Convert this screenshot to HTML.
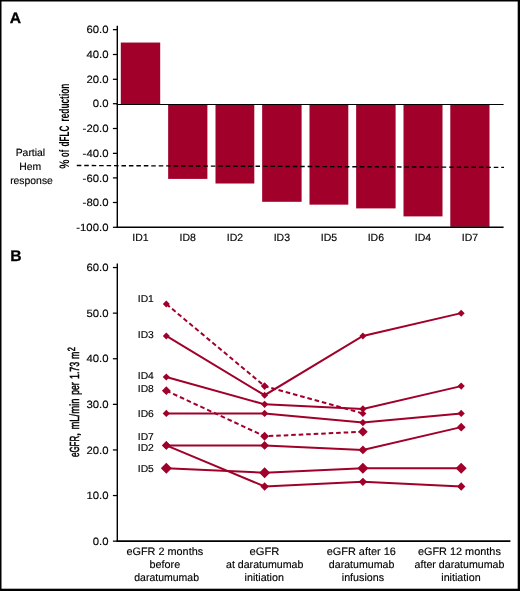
<!DOCTYPE html>
<html><head><meta charset="utf-8"><style>
html,body{margin:0;padding:0;background:#fff;}
body{width:520px;height:591px;overflow:hidden;}
svg{display:block;will-change:transform;}
text{font-family:"Liberation Sans",sans-serif;fill:#000;text-rendering:geometricPrecision;}
.t{font-size:10.8px;stroke:#000;stroke-width:0.15px;}
.pl{font-size:15.7px;font-weight:bold;fill:#000;stroke:#000;stroke-width:0.3px;}
.ta{font-size:13.8px;font-weight:bold;stroke:#000;stroke-width:0px;vector-effect:non-scaling-stroke;}
.tb{font-size:13.2px;stroke:#000;stroke-width:0.5px;vector-effect:non-scaling-stroke;}
</style></head><body>
<svg width="520" height="591" viewBox="0 0 520 591">
<rect x="0" y="0" width="1.5" height="591" fill="#000"/>
<rect x="0" y="0" width="520" height="1.5" fill="#000"/>
<rect x="517.7" y="0" width="2.3" height="591" fill="#000"/>
<rect x="0" y="588.7" width="520" height="2.3" fill="#000"/>
<text transform="translate(9.7,22.6) scale(1,0.95)" class="pl">A</text>
<text transform="translate(10.3,260.7) scale(1,0.98)" class="pl">B</text>
<rect x="120.8" y="42.55" width="39.40" height="61.95" fill="#a0002a"/>
<text x="140.50" y="240.6" class="t" style="font-size:10.5px" text-anchor="middle">ID1</text>
<rect x="168.15" y="104.5" width="39.25" height="74.40" fill="#a0002a"/>
<text x="187.78" y="240.6" class="t" style="font-size:10.5px" text-anchor="middle">ID8</text>
<rect x="215.5" y="104.5" width="38.80" height="79.00" fill="#a0002a"/>
<text x="234.90" y="240.6" class="t" style="font-size:10.5px" text-anchor="middle">ID2</text>
<rect x="262.15" y="104.5" width="39.45" height="97.30" fill="#a0002a"/>
<text x="281.88" y="240.6" class="t" style="font-size:10.5px" text-anchor="middle">ID3</text>
<rect x="309.5" y="104.5" width="38.80" height="100.15" fill="#a0002a"/>
<text x="328.90" y="240.6" class="t" style="font-size:10.5px" text-anchor="middle">ID5</text>
<rect x="356.15" y="104.5" width="39.45" height="103.90" fill="#a0002a"/>
<text x="375.88" y="240.6" class="t" style="font-size:10.5px" text-anchor="middle">ID6</text>
<rect x="403.5" y="104.5" width="39.00" height="111.90" fill="#a0002a"/>
<text x="423.00" y="240.6" class="t" style="font-size:10.5px" text-anchor="middle">ID4</text>
<rect x="450.3" y="104.5" width="39.20" height="122.30" fill="#a0002a"/>
<text x="469.90" y="240.6" class="t" style="font-size:10.5px" text-anchor="middle">ID7</text>
<line x1="117.3" y1="25.8" x2="117.3" y2="227.8" stroke="#000" stroke-width="1.4"/>
<line x1="116.6" y1="104.5" x2="503.6" y2="104.5" stroke="#000" stroke-width="1.1"/>
<line x1="116.6" y1="227.3" x2="503.6" y2="227.3" stroke="#000" stroke-width="1.6"/>
<line x1="112.9" y1="29.65" x2="117.3" y2="29.65" stroke="#000" stroke-width="1.25"/>
<text transform="translate(108.45,33.25) scale(1.05,0.98)" class="t" text-anchor="end">60.0</text>
<line x1="112.9" y1="54.50" x2="117.3" y2="54.50" stroke="#000" stroke-width="1.25"/>
<text transform="translate(108.45,58.10) scale(1.05,0.98)" class="t" text-anchor="end">40.0</text>
<line x1="112.9" y1="79.30" x2="117.3" y2="79.30" stroke="#000" stroke-width="1.25"/>
<text transform="translate(108.45,82.90) scale(1.05,0.98)" class="t" text-anchor="end">20.0</text>
<line x1="112.9" y1="103.70" x2="117.3" y2="103.70" stroke="#000" stroke-width="1.25"/>
<text transform="translate(108.45,107.30) scale(1.05,0.98)" class="t" text-anchor="end">0.0</text>
<line x1="112.9" y1="128.50" x2="117.3" y2="128.50" stroke="#000" stroke-width="1.25"/>
<text transform="translate(108.45,132.10) scale(1.05,0.98)" class="t" text-anchor="end">-20.0</text>
<line x1="112.9" y1="153.35" x2="117.3" y2="153.35" stroke="#000" stroke-width="1.25"/>
<text transform="translate(108.45,156.95) scale(1.05,0.98)" class="t" text-anchor="end">-40.0</text>
<line x1="112.9" y1="177.90" x2="117.3" y2="177.90" stroke="#000" stroke-width="1.25"/>
<text transform="translate(108.45,181.50) scale(1.05,0.98)" class="t" text-anchor="end">-60.0</text>
<line x1="112.9" y1="202.50" x2="117.3" y2="202.50" stroke="#000" stroke-width="1.25"/>
<text transform="translate(108.45,206.10) scale(1.05,0.98)" class="t" text-anchor="end">-80.0</text>
<line x1="112.9" y1="227.30" x2="117.3" y2="227.30" stroke="#000" stroke-width="1.25"/>
<text transform="translate(108.45,230.90) scale(1.05,0.98)" class="t" text-anchor="end">-100.0</text>
<line x1="76.8" y1="165.5" x2="504" y2="167.4" stroke="#000" stroke-width="1.4" stroke-dasharray="4.55 2.896"/>
<text x="30.4" y="156.0" class="t" style="font-size:10.4px" text-anchor="middle">Partial</text>
<text x="30.2" y="169.9" class="t" style="font-size:10.4px" text-anchor="middle">Hem</text>
<text x="31.5" y="183.5" class="t" style="font-size:10.4px" text-anchor="middle">response</text>
<text transform="translate(69.40,168.84) rotate(-90) scale(0.7565,1)" class="ta">%</text>
<text transform="translate(69.40,156.92) rotate(-90) scale(0.5468,1)" class="ta">of</text>
<text transform="translate(69.40,146.45) rotate(-90) scale(0.5934,1)" class="ta">dFLC</text>
<text transform="translate(69.40,121.58) rotate(-90) scale(0.6037,1)" class="ta">reduction</text>
<text transform="translate(74.75,351.36) rotate(-90) scale(0.7158,1)" class="tb" style="font-size:10.4px">2</text>
<text transform="translate(78.65,358.99) rotate(-90) scale(0.6710,1)" class="tb" style="font-size:13.2px">m</text>
<text transform="translate(78.65,379.08) rotate(-90) scale(0.6758,1)" class="tb" style="font-size:13.2px">1.73</text>
<text transform="translate(78.65,394.87) rotate(-90) scale(0.6500,1)" class="tb" style="font-size:13.2px">per</text>
<text transform="translate(78.65,429.53) rotate(-90) scale(0.7157,1)" class="tb" style="font-size:13.2px">mL/min</text>
<text transform="translate(78.65,436.30) rotate(-90) scale(0.9600,1)" class="tb" style="font-size:13.2px">,</text>
<text transform="translate(78.65,457.00) rotate(-90) scale(0.6029,1)" class="tb" style="font-size:13.2px">eGFR</text>
<line x1="117.3" y1="263.5" x2="117.3" y2="541.8" stroke="#000" stroke-width="1.4"/>
<line x1="116.6" y1="541.1" x2="510.4" y2="541.1" stroke="#000" stroke-width="1.8"/>
<line x1="112.9" y1="267.55" x2="117.3" y2="267.55" stroke="#000" stroke-width="1.25"/>
<text transform="translate(108.5,271.15) scale(1.05,0.98)" class="t" text-anchor="end">60.0</text>
<line x1="112.9" y1="313.15" x2="117.3" y2="313.15" stroke="#000" stroke-width="1.25"/>
<text transform="translate(108.5,316.75) scale(1.05,0.98)" class="t" text-anchor="end">50.0</text>
<line x1="112.9" y1="358.75" x2="117.3" y2="358.75" stroke="#000" stroke-width="1.25"/>
<text transform="translate(108.5,362.35) scale(1.05,0.98)" class="t" text-anchor="end">40.0</text>
<line x1="112.9" y1="404.35" x2="117.3" y2="404.35" stroke="#000" stroke-width="1.25"/>
<text transform="translate(108.5,407.95) scale(1.05,0.98)" class="t" text-anchor="end">30.0</text>
<line x1="112.9" y1="449.95" x2="117.3" y2="449.95" stroke="#000" stroke-width="1.25"/>
<text transform="translate(108.5,453.55) scale(1.05,0.98)" class="t" text-anchor="end">20.0</text>
<line x1="112.9" y1="495.55" x2="117.3" y2="495.55" stroke="#000" stroke-width="1.25"/>
<text transform="translate(108.5,499.15) scale(1.05,0.98)" class="t" text-anchor="end">10.0</text>
<line x1="112.9" y1="541.15" x2="117.3" y2="541.15" stroke="#000" stroke-width="1.25"/>
<text transform="translate(108.5,544.75) scale(1.05,0.98)" class="t" text-anchor="end">0.0</text>
<polyline points="166.30,304.03 264.60,386.11 362.90,413.47" fill="none" stroke="#a0002a" stroke-width="2" stroke-dasharray="4.6 2.9"/>
<polyline points="166.30,335.95 264.60,395.23 362.90,335.95 461.20,313.15" fill="none" stroke="#a0002a" stroke-width="2"/>
<polyline points="166.30,376.99 264.60,404.35 362.90,408.91 461.20,386.11" fill="none" stroke="#a0002a" stroke-width="2"/>
<polyline points="166.30,390.67 264.60,436.27 362.90,431.71" fill="none" stroke="#a0002a" stroke-width="2" stroke-dasharray="4.6 2.9"/>
<polyline points="166.30,413.47 264.60,413.47 362.90,422.59 461.20,413.47" fill="none" stroke="#a0002a" stroke-width="2"/>
<polyline points="166.30,445.39 264.60,486.43 362.90,481.87 461.20,486.43" fill="none" stroke="#a0002a" stroke-width="2"/>
<polyline points="166.30,445.39 264.60,445.39 362.90,449.95 461.20,427.15" fill="none" stroke="#a0002a" stroke-width="2"/>
<polyline points="166.30,468.19 264.60,472.75 362.90,468.19 461.20,468.19" fill="none" stroke="#a0002a" stroke-width="2"/>
<polygon points="166.30,300.53 169.80,304.03 166.30,307.53 162.80,304.03" fill="#a0002a"/>
<polygon points="264.60,382.31 268.40,386.11 264.60,389.91 260.80,386.11" fill="#a0002a"/>
<polygon points="362.90,409.97 366.40,413.47 362.90,416.97 359.40,413.47" fill="#a0002a"/>
<polygon points="166.30,332.45 169.80,335.95 166.30,339.45 162.80,335.95" fill="#a0002a"/>
<polygon points="264.60,391.73 268.10,395.23 264.60,398.73 261.10,395.23" fill="#a0002a"/>
<polygon points="362.90,332.45 366.40,335.95 362.90,339.45 359.40,335.95" fill="#a0002a"/>
<polygon points="461.20,309.65 464.70,313.15 461.20,316.65 457.70,313.15" fill="#a0002a"/>
<polygon points="166.30,373.39 169.90,376.99 166.30,380.59 162.70,376.99" fill="#a0002a"/>
<polygon points="264.60,400.75 268.20,404.35 264.60,407.95 261.00,404.35" fill="#a0002a"/>
<polygon points="362.90,405.31 366.50,408.91 362.90,412.51 359.30,408.91" fill="#a0002a"/>
<polygon points="461.20,382.51 464.80,386.11 461.20,389.71 457.60,386.11" fill="#a0002a"/>
<polygon points="166.30,386.27 170.70,390.67 166.30,395.07 161.90,390.67" fill="#a0002a"/>
<polygon points="264.60,431.87 269.00,436.27 264.60,440.67 260.20,436.27" fill="#a0002a"/>
<polygon points="362.90,426.91 367.70,431.71 362.90,436.51 358.10,431.71" fill="#a0002a"/>
<polygon points="166.30,409.87 169.90,413.47 166.30,417.07 162.70,413.47" fill="#a0002a"/>
<polygon points="264.60,409.87 268.20,413.47 264.60,417.07 261.00,413.47" fill="#a0002a"/>
<polygon points="362.90,418.99 366.50,422.59 362.90,426.19 359.30,422.59" fill="#a0002a"/>
<polygon points="461.20,409.87 464.80,413.47 461.20,417.07 457.60,413.47" fill="#a0002a"/>
<polygon points="166.30,441.19 170.50,445.39 166.30,449.59 162.10,445.39" fill="#a0002a"/>
<polygon points="264.60,482.23 268.80,486.43 264.60,490.63 260.40,486.43" fill="#a0002a"/>
<polygon points="362.90,477.67 367.10,481.87 362.90,486.07 358.70,481.87" fill="#a0002a"/>
<polygon points="461.20,482.23 465.40,486.43 461.20,490.63 457.00,486.43" fill="#a0002a"/>
<polygon points="166.30,440.99 170.70,445.39 166.30,449.79 161.90,445.39" fill="#a0002a"/>
<polygon points="264.60,440.99 269.00,445.39 264.60,449.79 260.20,445.39" fill="#a0002a"/>
<polygon points="362.90,445.55 367.30,449.95 362.90,454.35 358.50,449.95" fill="#a0002a"/>
<polygon points="461.20,422.75 465.60,427.15 461.20,431.55 456.80,427.15" fill="#a0002a"/>
<polygon points="166.30,462.69 171.80,468.19 166.30,473.69 160.80,468.19" fill="#a0002a"/>
<polygon points="264.60,467.25 270.10,472.75 264.60,478.25 259.10,472.75" fill="#a0002a"/>
<polygon points="362.90,462.69 368.40,468.19 362.90,473.69 357.40,468.19" fill="#a0002a"/>
<polygon points="461.20,462.69 466.70,468.19 461.20,473.69 455.70,468.19" fill="#a0002a"/>
<text transform="translate(137.8,302.25) scale(1.03,1)" class="t" style="font-size:10px">ID1</text>
<text transform="translate(137.8,337.65) scale(1.03,1)" class="t" style="font-size:10px">ID3</text>
<text transform="translate(137.8,378.65) scale(1.03,1)" class="t" style="font-size:10px">ID4</text>
<text transform="translate(137.8,392.25) scale(1.03,1)" class="t" style="font-size:10px">ID8</text>
<text transform="translate(137.8,416.65) scale(1.03,1)" class="t" style="font-size:10px">ID6</text>
<text transform="translate(137.8,439.95) scale(1.03,1)" class="t" style="font-size:10px">ID7</text>
<text transform="translate(137.8,451.35) scale(1.03,1)" class="t" style="font-size:10px">ID2</text>
<text transform="translate(137.8,472.35) scale(1.03,1)" class="t" style="font-size:10px">ID5</text>
<text transform="translate(126.50,555.35) scale(1.0056,1)" class="t">eGFR 2 months</text>
<text transform="translate(149.48,568.35) scale(1.0034,1)" class="t">before</text>
<text transform="translate(134.21,581.35) scale(0.9723,1)" class="t">daratumumab</text>
<text transform="translate(249.58,555.35) scale(1.0378,1)" class="t">eGFR</text>
<text transform="translate(226.01,568.35) scale(0.9830,1)" class="t">at daratumumab</text>
<text transform="translate(244.55,581.35) scale(0.9940,1)" class="t">initiation</text>
<text transform="translate(326.69,555.35) scale(1.0104,1)" class="t">eGFR after 16</text>
<text transform="translate(328.81,568.35) scale(0.9845,1)" class="t">daratumumab</text>
<text transform="translate(341.76,581.35) scale(0.9928,1)" class="t">infusions</text>
<text transform="translate(417.90,555.35) scale(1.0088,1)" class="t">eGFR 12 months</text>
<text transform="translate(414.61,568.35) scale(0.9839,1)" class="t">after daratumumab</text>
<text transform="translate(441.25,581.35) scale(0.9940,1)" class="t">initiation</text>
</svg>
</body></html>
